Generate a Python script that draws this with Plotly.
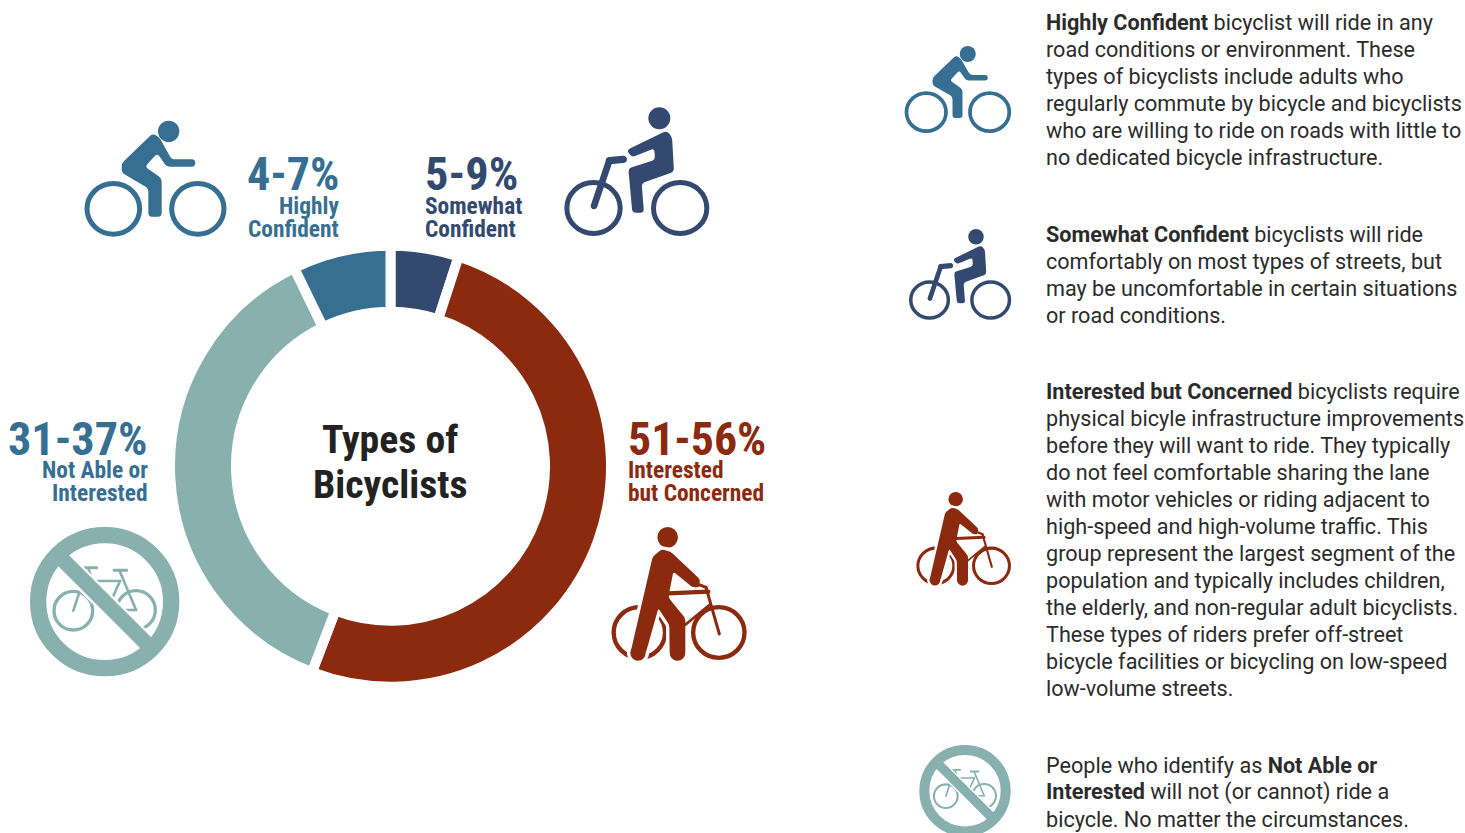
import plotly.graph_objects as go

# ---------- data ----------
categories = ["Somewhat Confident", "Interested but Concerned", "Not Able or Interested", "Highly Confident"]
values = [5, 50.8, 37, 7.2]
ranges = ["5-9%", "51-56%", "31-37%", "4-7%"]
slice_colors = ["#34496F", "#8B2A0E", "#87B0AF", "#366F92"]

BLUE, NAVY, RUST, SAGE = "#366F92", "#34496F", "#8B2A0E", "#87B0AF"
COND = "Roboto Condensed, Liberation Sans Narrow, Roboto"
BODY = "Roboto"

# (text, x, y, anchor, size, colour)
big_labels = [
    (ranges[3], 338.5, 174, "right", 46, BLUE),
    (ranges[0], 425, 174, "left", 46.4, NAVY),
    (ranges[1], 628, 439, "left", 45.8, RUST),
    (ranges[2], 147.5, 439, "right", 46.2, BLUE),
]
sub_labels = [
    ("Highly", 339, 206, "right", BLUE), ("Confident", 339, 229, "right", BLUE),
    ("Somewhat", 425, 206, "left", NAVY), ("Confident", 425, 229, "left", NAVY),
    ("Interested", 628, 470.4, "left", RUST), ("but Concerned", 628, 493, "left", RUST),
    ("Not Able or", 147.5, 470.4, "right", BLUE), ("Interested", 147.5, 493, "right", BLUE),
]
centre_lines = [("Types of", 439.4), ("Bicyclists", 484.4)]

desc_blocks = [
    (22.2, ["<b>Highly Confident</b> bicyclist will ride in any", "road conditions or environment. These",
          "types of bicyclists include adults who", "regularly commute by bicycle and bicyclists",
          "who are willing to ride on roads with little to", "no dedicated bicycle infrastructure."]),
    (234.2, ["<b>Somewhat Confident</b> bicyclists will ride", "comfortably on most types of streets, but",
           "may be uncomfortable in certain situations", "or road conditions."]),
    (391.2, ["<b>Interested but Concerned</b> bicyclists require", "physical bicyle infrastructure improvements",
           "before they will want to ride. They typically", "do not feel comfortable sharing the lane",
           "with motor vehicles or riding adjacent to", "high-speed and high-volume traffic. This",
           "group represent the largest segment of the", "population and typically includes children,",
           "the elderly, and non-regular adult bicyclists.", "These types of riders prefer off-street",
           "bicycle facilities or bicycling on low-speed", "low-volume streets."]),
    (765.4, ["People who identify as <b>Not Able or</b>", "<b>Interested</b> will not (or cannot) ride a",
           "bicycle. No matter the circumstances."]),
]

# ---------- icon helpers (pictograms, in zoomed local units) ----------
shapes = []
KAPPA = 0.5523

def T(p, t):
    return (t[0] + p[0] * t[2], t[1] + p[1] * t[2])

def add_path(d, color, lw=0, lc=None):
    shapes.append(dict(type="path", path=d, xref="x", yref="y", fillcolor=color, layer="above",
                       line=dict(width=lw, color=lc or color)))

def round_poly(pts, r, color, t, lw=0, lc=None):
    P = [T(p, t) for p in pts]
    rr = r * t[2]
    n = len(P)
    d = ""
    for i in range(n):
        a, b, c = P[i - 1], P[i], P[(i + 1) % n]
        def toward(u, v):
            L = ((v[0]-u[0])**2 + (v[1]-u[1])**2) ** .5 or 1
            k = min(rr, L / 2) / L
            return (u[0] + (v[0]-u[0]) * k, u[1] + (v[1]-u[1]) * k)
        s, e = toward(b, a), toward(b, c)
        d += f"{'M' if i == 0 else 'L'}{s[0]:.2f},{s[1]:.2f} Q{b[0]:.2f},{b[1]:.2f} {e[0]:.2f},{e[1]:.2f} "
    add_path(d + "Z", color, lw, lc)

def capsule(p, q, w, color, t):
    a, b = T(p, t), T(q, t)
    r = w * t[2] / 2
    L = ((b[0]-a[0])**2 + (b[1]-a[1])**2) ** .5
    ux, uy = (b[0]-a[0]) / L, (b[1]-a[1]) / L
    nx, ny = -uy * r, ux * r
    fx, fy = ux * r, uy * r
    def cap(c, nx, ny, fx, fy):
        tip = (c[0] + fx, c[1] + fy)
        s1 = (c[0] + nx + fx * KAPPA, c[1] + ny + fy * KAPPA)
        s2 = (tip[0] + nx * KAPPA, tip[1] + ny * KAPPA)
        e1 = (tip[0] - nx * KAPPA, tip[1] - ny * KAPPA)
        e2 = (c[0] - nx + fx * KAPPA, c[1] - ny + fy * KAPPA)
        end = (c[0] - nx, c[1] - ny)
        return (f"C{s1[0]:.2f},{s1[1]:.2f} {s2[0]:.2f},{s2[1]:.2f} {tip[0]:.2f},{tip[1]:.2f} "
                f"C{e1[0]:.2f},{e1[1]:.2f} {e2[0]:.2f},{e2[1]:.2f} {end[0]:.2f},{end[1]:.2f} ")
    d = f"M{a[0]+nx:.2f},{a[1]+ny:.2f} L{b[0]+nx:.2f},{b[1]+ny:.2f} " + cap(b, nx, ny, fx, fy)
    d += f"L{a[0]-nx:.2f},{a[1]-ny:.2f} " + cap(a, -nx, -ny, -fx, -fy) + "Z"
    add_path(d, color)

def disc(c, r, color, t):
    x, y = T(c, t); R = r * t[2]
    shapes.append(dict(type="circle", xref="x", yref="y", x0=x-R, x1=x+R, y0=y-R, y1=y+R,
                       fillcolor=color, line=dict(width=0), layer="above"))

def ring(c, r, w, color, t, ry=None):
    x, y = T(c, t); Rx = r * t[2]; Ry = (ry or r) * t[2]
    shapes.append(dict(type="circle", xref="x", yref="y", x0=x-Rx, x1=x+Rx, y0=y-Ry, y1=y+Ry,
                       fillcolor="rgba(0,0,0,0)", line=dict(width=w * t[2], color=color), layer="above"))

def icon_highly(t, c=BLUE):
    disc((296, 94), 32, c, t)
    ring((130, 326.5), 79, 15, c, t, ry=76)
    ring((383.5, 326.5), 78.5, 15, c, t, ry=76)
    round_poly([(248, 100), (268, 112), (305, 178), (376, 178), (376, 200), (290, 200), (262, 160),
                (225, 200), (275, 235), (275, 350), (235, 350), (235, 265), (155, 218), (155, 190)],
               11, c, t)

def icon_somewhat(t, c=NAVY):
    disc((748, 55), 33, c, t)
    ring((550.5, 324), 80, 15, c, t, ry=76.5)
    ring((810.5, 324), 80, 15, c, t, ry=76.5)
    capsule((640, 178), (598, 182), 22, c, t)
    capsule((598, 182), (552, 318), 20, c, t)
    round_poly([(770, 92), (786, 110), (792, 215), (695, 250), (702, 338), (667, 338), (655, 205),
                (735, 180), (733, 145), (665, 172), (650, 150)], 11, c, t)

def icon_interested(t, c=RUST):
    body = [(185, 118), (212, 125), (300, 208), (298, 232), (278, 232), (220, 185), (205, 262), (256, 325),
            (256, 430), (209, 430), (208, 345), (175, 295), (137, 430), (91, 430), (158, 140)]
    disc((203, 82), 31, c, t)
    ring((118, 367.5), 77, 13, c, t, ry=76)
    ring((356.5, 367.5), 77, 13, c, t, ry=76)
    round_poly(body, 8, "#FFFFFF", t, lw=20 * t[2], lc="#FFFFFF")
    disc((114, 429), 33, "#FFFFFF", t)
    capsule((205, 250), (325, 245), 13, c, t)
    capsule((300, 225), (318, 232), 9, c, t)
    capsule((318, 232), (358, 372), 9, c, t)
    capsule((328, 285), (255, 345), 8, c, t)
    round_poly(body, 8, c, t)
    disc((114, 429), 23, c, t)
    disc((232.5, 429), 23.5, c, t)

def icon_no(t, c=SAGE):
    ring((160, 272), 58, 10, c, t)
    ring((348, 270), 58, 10, c, t)
    capsule((160, 272), (190, 180), 8, c, t)
    capsule((195, 143), (230, 143), 9, c, t)
    capsule((282, 151), (320, 151), 9, c, t)
    capsule((205, 145), (218, 185), 8, c, t)
    capsule((190, 183), (300, 183), 8, c, t)
    capsule((300, 155), (348, 270), 8, c, t)
    capsule((348, 270), (290, 270), 8, c, t)
    capsule((300, 183), (270, 250), 8, c, t)
    a, b = (118, 110), (390, 382)
    w = 60
    k = w / 2 / 2 ** .5
    add_path("M{:.2f},{:.2f} L{:.2f},{:.2f} L{:.2f},{:.2f} L{:.2f},{:.2f} Z".format(
        *T((a[0]+k, a[1]-k), t), *T((b[0]+k, b[1]-k), t), *T((b[0]-k, b[1]+k), t), *T((a[0]-k, a[1]+k), t)),
        "#FFFFFF")
    a, b = (100, 91), (408, 399)
    w = 46
    k = w / 2 / 2 ** .5
    add_path("M{:.2f},{:.2f} L{:.2f},{:.2f} L{:.2f},{:.2f} L{:.2f},{:.2f} Z".format(
        *T((a[0]+k, a[1]-k), t), *T((b[0]+k, b[1]-k), t), *T((b[0]-k, b[1]+k), t), *T((a[0]-k, a[1]+k), t)), c)
    ring((254, 245), 199.5, 49, c, t)

def place(left, top, zl, zt, scale):
    k = scale / 3
    return (left - zl * k, top - zt * k, k)

icon_highly((70, 100, 1 / 3))
icon_somewhat((410, 100, 1 / 3))
icon_interested((600, 510, 1 / 3))
icon_no((20, 520, 1 / 3))
icon_highly(place(905, 46, 45, 62, 0.75))
icon_somewhat(place(909, 229, 463, 22, 0.705))
icon_interested(place(916, 492, 33, 51, 0.70))
icon_no(place(965, 790.7, 254, 245, 0.612))

# ---------- figure ----------
W, H = 1465, 833
CX, CY, R = 390.5, 466.2, 220.5

annotations = []
def note(text, x, y, anchor, size, color, family):
    annotations.append(dict(text=text, x=x, y=y, xref="x", yref="y", xanchor=anchor, yanchor="middle",
                            showarrow=False, borderpad=0, borderwidth=0,
                            font=dict(family=family, size=size, color=color)))

for text, x, y, a, s, c in big_labels:
    note(f"<b>{text}</b>", x, y, a, s, c, COND)
for text, x, y, a, c in sub_labels:
    note(f"<b>{text}</b>", x, y, a, 23.4, c, COND)
for text, y in centre_lines:
    note(f"<b>{text}</b>", 390, y, "center", 39.7, "#222222", COND)
for y0, lines in desc_blocks:
    for i, line in enumerate(lines):
        note(line, 1046, y0 + i * 27, "left", 21.6, "#2B2B2B", BODY)

fig = go.Figure()
fig.add_trace(go.Pie(labels=categories, values=values, sort=False, direction="clockwise", rotation=0,
                     hole=(159.5 - 5) / R, textinfo="none", hoverinfo="label+percent", showlegend=False,
                     marker=dict(colors=slice_colors, line=dict(color="#FFFFFF", width=10)),
                     domain=dict(x=[(CX - R) / W, (CX + R) / W], y=[1 - (CY + R) / H, 1 - (CY - R) / H])))
fig.add_trace(go.Scatter(x=[None], y=[None], mode="markers", showlegend=False, hoverinfo="skip"))
fig.update_layout(width=W, height=H, margin=dict(l=0, r=0, t=0, b=0), paper_bgcolor="#FFFFFF",
                  plot_bgcolor="rgba(0,0,0,0)", showlegend=False,
                  xaxis=dict(visible=False, range=[0, W], domain=[0, 1], fixedrange=True),
                  yaxis=dict(visible=False, range=[H, 0], domain=[0, 1], fixedrange=True),
                  shapes=shapes, annotations=annotations)
fig.write_html("out.html", config=dict(displayModeBar=False),
               post_script="document.body.style.margin='0';document.body.style.overflow='hidden';")
